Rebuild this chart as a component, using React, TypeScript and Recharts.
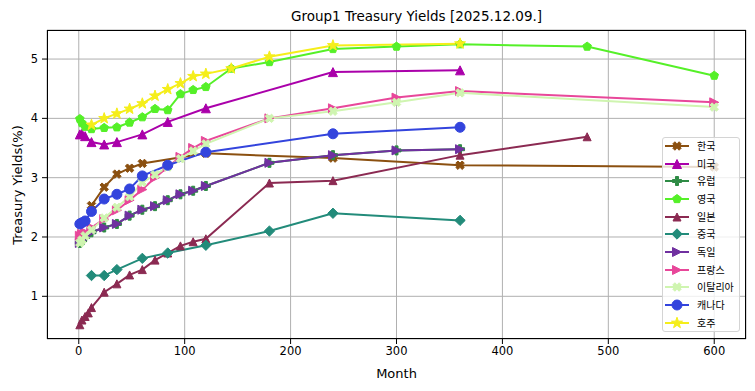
import React from "react";
import { CartesianGrid, Line, LineChart, XAxis, YAxis } from "recharts";

// maturities in months, yields in %
const KR_MONTHS = [12, 24, 36, 48, 60, 120, 240, 360, 600];
const KR_YIELDS = [2.53, 2.84, 3.06, 3.16, 3.24, 3.41, 3.33, 3.21, 3.18];

const US_MONTHS = [1, 3, 6, 12, 24, 36, 60, 84, 120, 240, 360];
const US_YIELDS = [3.73, 3.74, 3.7, 3.6, 3.56, 3.6, 3.73, 3.94, 4.17, 4.78, 4.81];

const EU_MONTHS = [1, 3, 6, 12, 24, 36, 48, 60, 72, 84, 96, 108, 120, 180, 240, 300, 360];
const EU_YIELDS = [1.9, 1.95, 2.0, 2.08, 2.16, 2.22, 2.36, 2.46, 2.52, 2.62, 2.72, 2.78, 2.86, 3.25, 3.38, 3.46, 3.48];

const UK_MONTHS = [1, 3, 6, 12, 24, 36, 48, 60, 72, 84, 96, 108, 120, 144, 180, 240, 300, 360, 480, 600];
const UK_YIELDS = [3.99, 3.92, 3.86, 3.82, 3.84, 3.85, 3.93, 4.02, 4.16, 4.14, 4.41, 4.48, 4.53, 4.84, 4.95, 5.17, 5.21, 5.25, 5.21, 4.72];

const JP_MONTHS = [1, 3, 6, 9, 12, 24, 36, 48, 60, 72, 84, 96, 108, 120, 180, 240, 360, 480];
const JP_YIELDS = [0.52, 0.6, 0.66, 0.72, 0.81, 1.07, 1.21, 1.36, 1.45, 1.61, 1.73, 1.85, 1.92, 1.97, 2.91, 2.95, 3.38, 3.69];

const CN_MONTHS = [12, 24, 36, 60, 84, 120, 180, 240, 360];
const CN_YIELDS = [1.35, 1.35, 1.45, 1.64, 1.73, 1.86, 2.1, 2.4, 2.28];

const DE_MONTHS = [1, 3, 6, 12, 24, 36, 48, 60, 72, 84, 96, 108, 120, 180, 240, 300, 360];
const DE_YIELDS = [1.9, 1.95, 2.0, 2.08, 2.16, 2.22, 2.36, 2.46, 2.52, 2.62, 2.72, 2.78, 2.86, 3.25, 3.38, 3.46, 3.48];

const FR_MONTHS = [1, 3, 6, 12, 24, 36, 48, 60, 72, 84, 96, 108, 120, 180, 240, 300, 360, 600];
const FR_YIELDS = [2.02, 2.05, 2.08, 2.16, 2.3, 2.45, 2.62, 2.8, 3.0, 3.18, 3.35, 3.5, 3.62, 4.0, 4.17, 4.35, 4.46, 4.27];

const IT_MONTHS = [1, 3, 6, 12, 24, 36, 48, 60, 72, 84, 96, 108, 120, 180, 240, 300, 360, 600];
const IT_YIELDS = [1.9, 1.95, 2.02, 2.12, 2.32, 2.5, 2.68, 2.92, 3.05, 3.18, 3.32, 3.45, 3.57, 4.0, 4.12, 4.27, 4.43, 4.19];

const CA_MONTHS = [1, 3, 6, 12, 24, 36, 48, 60, 84, 120, 240, 360];
const CA_YIELDS = [2.22, 2.24, 2.27, 2.43, 2.64, 2.72, 2.81, 3.03, 3.21, 3.43, 3.74, 3.85];

const AU_MONTHS = [12, 24, 36, 48, 60, 72, 84, 96, 108, 120, 144, 180, 240, 360];
const AU_YIELDS = [3.89, 4.0, 4.08, 4.16, 4.25, 4.38, 4.49, 4.59, 4.71, 4.75, 4.84, 5.04, 5.23, 5.26];

const X_TICKS = [0, 100, 200, 300, 400, 500, 600];
const Y_TICKS = [1, 2, 3, 4, 5];

type Shape = "X" | "^" | "P" | "p" | "D" | ">" | "o" | "*";

const SERIES: { name: string; months: number[]; yields: number[]; color: string; shape: Shape; size: number }[] = [
  { name: "한국", months: KR_MONTHS, yields: KR_YIELDS, color: "#8b5010", shape: "X", size: 9 },
  { name: "미국", months: US_MONTHS, yields: US_YIELDS, color: "#aa00aa", shape: "^", size: 9 },
  { name: "유럽", months: EU_MONTHS, yields: EU_YIELDS, color: "#2e8b45", shape: "P", size: 9 },
  { name: "영국", months: UK_MONTHS, yields: UK_YIELDS, color: "#55f028", shape: "p", size: 9 },
  { name: "일본", months: JP_MONTHS, yields: JP_YIELDS, color: "#8b2a52", shape: "^", size: 8 },
  { name: "중국", months: CN_MONTHS, yields: CN_YIELDS, color: "#228b7a", shape: "D", size: 9 },
  { name: "독일", months: DE_MONTHS, yields: DE_YIELDS, color: "#7030a0", shape: ">", size: 9 },
  { name: "프랑스", months: FR_MONTHS, yields: FR_YIELDS, color: "#e8479a", shape: ">", size: 9 },
  { name: "이탈리아", months: IT_MONTHS, yields: IT_YIELDS, color: "#cff5b0", shape: "X", size: 9 },
  { name: "캐나다", months: CA_MONTHS, yields: CA_YIELDS, color: "#3344dd", shape: "o", size: 10 },
  { name: "호주", months: AU_MONTHS, yields: AU_YIELDS, color: "#f5ee1a", shape: "*", size: 11 },
];

const FONT = "'DejaVu Sans', sans-serif";

function pts(list: number[][]) {
  return list.map((p) => `${p[0]},${p[1]}`).join(" ");
}

function Marker({ shape, cx, cy, size, color }: { shape: Shape; cx: number; cy: number; size: number; color: string }) {
  const h = size / 2;
  const common = { fill: color, stroke: color, strokeWidth: 1 };
  if (shape === "o") return <circle cx={cx} cy={cy} r={h} {...common} />;
  if (shape === "^") return <polygon points={pts([[cx, cy - h], [cx - h, cy + h], [cx + h, cy + h]])} {...common} />;
  if (shape === ">") return <polygon points={pts([[cx + h, cy], [cx - h, cy - h], [cx - h, cy + h]])} {...common} />;
  if (shape === "D") {
    const d = h * 1.15;
    return <polygon points={pts([[cx, cy - d], [cx + d, cy], [cx, cy + d], [cx - d, cy]])} {...common} />;
  }
  if (shape === "p" || shape === "*") {
    const list: number[][] = [];
    const n = shape === "p" ? 5 : 10;
    for (let i = 0; i < n; i++) {
      const a = -Math.PI / 2 + (i * 2 * Math.PI) / n;
      const r = shape === "p" ? h : i % 2 === 0 ? h * 1.05 : h * 0.42;
      list.push([cx + r * Math.cos(a), cy + r * Math.sin(a)]);
    }
    return <polygon points={pts(list)} {...common} />;
  }
  // filled plus / filled x
  const a = h / 3;
  const base = [[-a, -h], [a, -h], [a, -a], [h, -a], [h, a], [a, a], [a, h], [-a, h], [-a, a], [-h, a], [-h, -a], [-a, -a]];
  const rot = shape === "X" ? Math.PI / 4 : 0;
  const list = base.map(([x, y]) => [cx + x * Math.cos(rot) - y * Math.sin(rot), cy + x * Math.sin(rot) + y * Math.cos(rot)]);
  return <polygon points={pts(list)} {...common} />;
}

export default function App() {
  return (
    <div style={{ position: "absolute", left: 0, top: 0, width: 755, height: 391, background: "#fff", fontFamily: FONT }}>
      <LineChart width={755} height={391} margin={{ top: 30, right: 9, bottom: 22, left: 7 }}>
        <CartesianGrid stroke="#b0b0b0" strokeWidth={1} />
        <XAxis
          type="number"
          dataKey="month"
          domain={[-30, 630]}
          ticks={X_TICKS}
          allowDataOverflow
          axisLine={false}
          tickLine={{ stroke: "#000" }}
          tickSize={5}
          tickMargin={3}
          height={30}
          tick={{ fill: "#000", fontSize: 11.5, fontFamily: FONT }}
        />
        <YAxis
          type="number"
          domain={[0.28, 5.49]}
          ticks={Y_TICKS}
          allowDataOverflow
          axisLine={false}
          tickLine={{ stroke: "#000" }}
          tickSize={5}
          tickMargin={4}
          width={40}
          tick={{ fill: "#000", fontSize: 11.5, fontFamily: FONT }}
        />
        {SERIES.map((s) => (
          <Line
            key={s.name}
            data={s.months.map((m, i) => ({ month: m, yld: s.yields[i] }))}
            dataKey="yld"
            name={s.name}
            stroke={s.color}
            strokeWidth={2}
            isAnimationActive={false}
            activeDot={false}
            dot={(p: any) => <Marker key={`${s.name}-${p.index}`} shape={s.shape} cx={p.cx} cy={p.cy} size={s.size} color={s.color} />}
          />
        ))}
      </LineChart>

      <div style={{ position: "absolute", left: 47, top: 30, width: 699, height: 309, border: "1px solid #000", boxSizing: "border-box", pointerEvents: "none" }} />

      <div style={{ position: "absolute", left: 0, width: 755, top: 8, textAlign: "center", fontSize: 13.5, paddingLeft: 39 }}>
        Group1 Treasury Yields [2025.12.09.]
      </div>
      <div style={{ position: "absolute", left: 47, width: 699, top: 366, textAlign: "center", fontSize: 13 }}>Month</div>
      <div style={{ position: "absolute", left: 17, top: 185, fontSize: 13, whiteSpace: "nowrap", transform: "translate(-50%, -50%) rotate(-90deg)" }}>
        Treasury Yields(%)
      </div>

      <div style={{ position: "absolute", left: 662, top: 137, width: 78, height: 195, border: "1px solid #d4d4d4", borderRadius: 3, background: "rgba(255,255,255,0.8)", boxSizing: "border-box" }}>
        {SERIES.map((s, i) => (
          <div key={s.name} style={{ position: "absolute", left: 0, top: 1 + i * 17.65, height: 14, width: 76 }}>
            <svg width={30} height={14} style={{ position: "absolute", left: 0, top: 0 }}>
              <line x1={2} y1={7} x2={26} y2={7} stroke={s.color} strokeWidth={2} />
              <Marker shape={s.shape} cx={14} cy={7} size={s.size} color={s.color} />
            </svg>
            <span style={{ position: "absolute", left: 34, top: 0, lineHeight: "14px", fontSize: 10, fontFamily: "'Noto Sans CJK KR', sans-serif", color: "#000", whiteSpace: "nowrap" }}>
              {s.name}
            </span>
          </div>
        ))}
      </div>
    </div>
  );
}
